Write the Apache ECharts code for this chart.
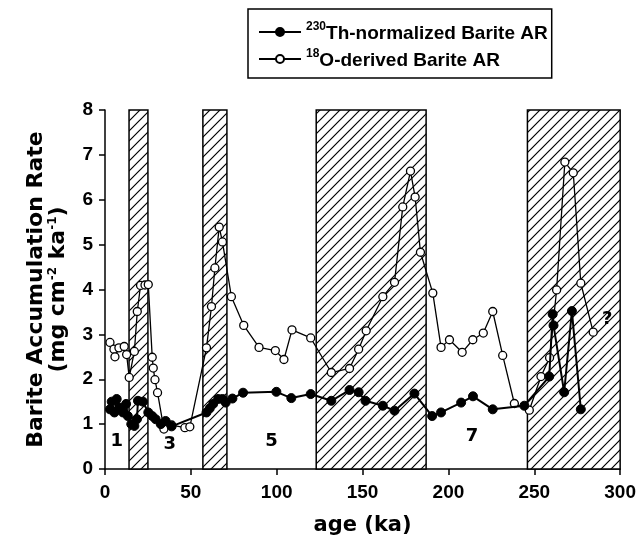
<!DOCTYPE html>
<html><head><meta charset="utf-8">
<script src="https://cdn.jsdelivr.net/npm/echarts@6/dist/echarts.min.js"></script>
<style>html,body{margin:0;padding:0;background:#fff}#c{width:639px;height:550px}</style>
</head><body><div id="c"></div>
<script>
// ---- data ----
const thAge = [2.9,3.9,5.5,6.8,8.5,10.5,12.3,13.3,15.3,17.1,18.6,19.2,22.1,25.2,27.5,29.5,32.5,35.3,38.8,
  59.1,61,63,65.9,68.4,70.3,74.2,80.4,99.8,108.5,119.8,131.8,142.4,147.7,151.7,161.8,168.6,180.2,190.5,195.7,207.4,214.3,225.8,244.2,
  258.7,260.7,261.2,267.4,271.9,277.1];
const thAR = [1.33,1.50,1.26,1.56,1.37,1.26,1.45,1.18,1.00,0.96,1.11,1.52,1.50,1.26,1.18,1.11,1.00,1.07,0.95,
  1.26,1.35,1.45,1.56,1.56,1.48,1.57,1.70,1.72,1.58,1.67,1.52,1.76,1.71,1.52,1.41,1.30,1.68,1.18,1.26,1.48,1.62,1.33,1.41,
  2.06,3.45,3.20,1.71,3.52,1.33];
const oAge = [2.9,5.2,5.8,8.1,11.2,12.6,14.1,17.1,18.8,20.7,23.3,25.2,27.5,28.1,29.1,30.6,34.3,38.8,46.5,49.4,
  59.1,62,64,66.5,68.4,73.6,80.8,89.7,99.2,104.2,108.9,119.8,131.8,142.4,147.7,152.1,161.8,168.6,173.4,177.9,180.6,183.7,
  190.9,195.7,200.6,208,214.2,220.3,225.8,231.6,238.4,247.1,253.9,258.9,263,267.8,272.7,277.1,284.3];
const oAR = [2.82,2.67,2.50,2.70,2.73,2.55,2.04,2.62,3.51,4.09,4.10,4.11,2.49,2.25,1.99,1.70,0.89,0.98,0.92,0.94,
  2.70,3.62,4.48,5.39,5.06,3.84,3.20,2.71,2.64,2.44,3.10,2.92,2.15,2.24,2.67,3.08,3.84,4.16,5.84,6.64,6.06,4.83,
  3.92,2.71,2.88,2.60,2.88,3.03,3.51,2.53,1.46,1.31,2.06,2.48,3.99,6.84,6.60,4.14,3.05];
const bandStart = [14, 57, 123, 246];
const bandEnd = [25, 71, 187, 300];
const stageText = ['1','3','5','7','?'];
const stageAge = [6.8, 37.7, 96.9, 213.8, 292.5];
const stageAR = [0.63, 0.56, 0.63, 0.74, 3.35];
const xTicks = [0, 50, 100, 150, 200, 250, 300];
const yTicks = [0, 1, 2, 3, 4, 5, 6, 7, 8];
const nameTh = '230Th-normalized Barite AR';
const nameO = '18O-derived Barite AR';

// hatch pattern
const pc = document.createElement('canvas');
const P = 10; pc.width = P; pc.height = P;
const g = pc.getContext('2d');
g.fillStyle = '#fff'; g.fillRect(0,0,P,P);
g.strokeStyle = '#000'; g.lineWidth = 1.2;
g.beginPath();
g.moveTo(0,P); g.lineTo(P,0);
g.moveTo(-2,2); g.lineTo(2,-2);
g.moveTo(P-2,P+2); g.lineTo(P+2,P-2);
g.stroke();

const zip = (a,b) => a.map((v,i)=>[v,b[i]]);
const F = 'Liberation Sans, Arial, sans-serif';
const chart = echarts.init(document.getElementById('c'), null, {renderer:'canvas'});
chart.setOption({
  animation: false,
  backgroundColor: '#fff',
  grid: {left:105, right:18, top:110, bottom:81, containLabel:false},
  legend: {
    orient:'vertical', left:248, top:9,
    data:[nameTh, nameO],
    borderColor:'#000', borderWidth:1.5, borderRadius:0,
    padding:[12,4,8,10], itemGap:5, itemWidth:42, itemHeight:10,
    textStyle:{fontFamily:F, fontWeight:'bold', fontSize:19, color:'#000',
      rich:{
        s:{fontFamily:F, fontWeight:'bold', fontSize:12, color:'#000', verticalAlign:'top', lineHeight:22},
        t:{fontFamily:F, fontWeight:'bold', fontSize:19, color:'#000', verticalAlign:'bottom', lineHeight:22}
      }},
    formatter: n => n === nameTh ? '{s|230}{t|Th-normalized Barite AR}' : '{s|18}{t|O-derived Barite AR}'
  },
  xAxis: {
    type:'value', min:0, max:300, interval:50,
    name:'age (ka)', nameLocation:'middle', nameGap:46,
    nameTextStyle:{fontFamily:'DejaVu Sans', fontWeight:'bold', fontSize:21, color:'#000'},
    axisLine:{show:true, onZero:false, lineStyle:{color:'#000', width:1.5}},
    axisTick:{show:true, inside:false, length:6, lineStyle:{color:'#000', width:1.5}},
    axisLabel:{margin:14, fontFamily:F, fontWeight:'bold', fontSize:19, color:'#000',
      formatter: v => xTicks.includes(v) ? String(v) : ''},
    splitLine:{show:false}
  },
  yAxis: {
    type:'value', min:0, max:8, interval:1,
    name:'{t|Barite Accumulation Rate}\n{t|(mg cm}{s|-2}{t| ka}{s|-1}{t|)}',
    nameLocation:'middle', nameRotate:90, nameGap:36,
    nameTextStyle:{fontFamily:'DejaVu Sans', fontWeight:'bold', fontSize:22, color:'#000',
      rich:{
        t:{fontFamily:'DejaVu Sans', fontWeight:'bold', fontSize:22, color:'#000', lineHeight:22, verticalAlign:'bottom'},
        s:{fontFamily:'DejaVu Sans', fontWeight:'bold', fontSize:12, color:'#000', lineHeight:22, verticalAlign:'top'}
      }},
    axisLine:{show:true, onZero:false, lineStyle:{color:'#000', width:1.5}},
    axisTick:{show:true, inside:false, length:6, lineStyle:{color:'#000', width:1.5}},
    axisLabel:{margin:12, fontFamily:F, fontWeight:'bold', fontSize:19, color:'#000',
      formatter: v => yTicks.includes(v) ? String(v) : ''},
    splitLine:{show:false}
  },
  series: [
    {
      type:'line', name:'bands', data:[], z:1, silent:true,
      markArea:{silent:true,
        itemStyle:{color:{image:pc, repeat:'repeat'}, borderColor:'#000', borderWidth:1.5},
        data: bandStart.map((s,i)=>[{xAxis:s},{xAxis:bandEnd[i]}])}
    },
    {
      type:'line', name:nameO, data:zip(oAge,oAR), z:3,
      symbol:'circle', symbolSize:8, showAllSymbol:true,
      lineStyle:{color:'#000', width:1.3},
      itemStyle:{color:'#fff', borderColor:'#000', borderWidth:1.3}
    },
    {
      type:'line', name:nameTh, data:zip(thAge,thAR), z:4,
      symbol:'circle', symbolSize:9, showAllSymbol:true,
      lineStyle:{color:'#000', width:2},
      itemStyle:{color:'#000', borderColor:'#000', borderWidth:1}
    },
    {
      type:'scatter', name:'stages', data:zip(stageAge,stageAR), z:5, symbolSize:1, silent:true,
      itemStyle:{color:'rgba(0,0,0,0)'},
      label:{show:true, position:'top', distance:-10, fontFamily:'DejaVu Sans', fontWeight:'bold', fontSize:18,
        color:'#000', textBorderWidth:0, opacity:1,
        formatter: p => stageText[p.dataIndex]}
    }
  ]
});
</script></body></html>
